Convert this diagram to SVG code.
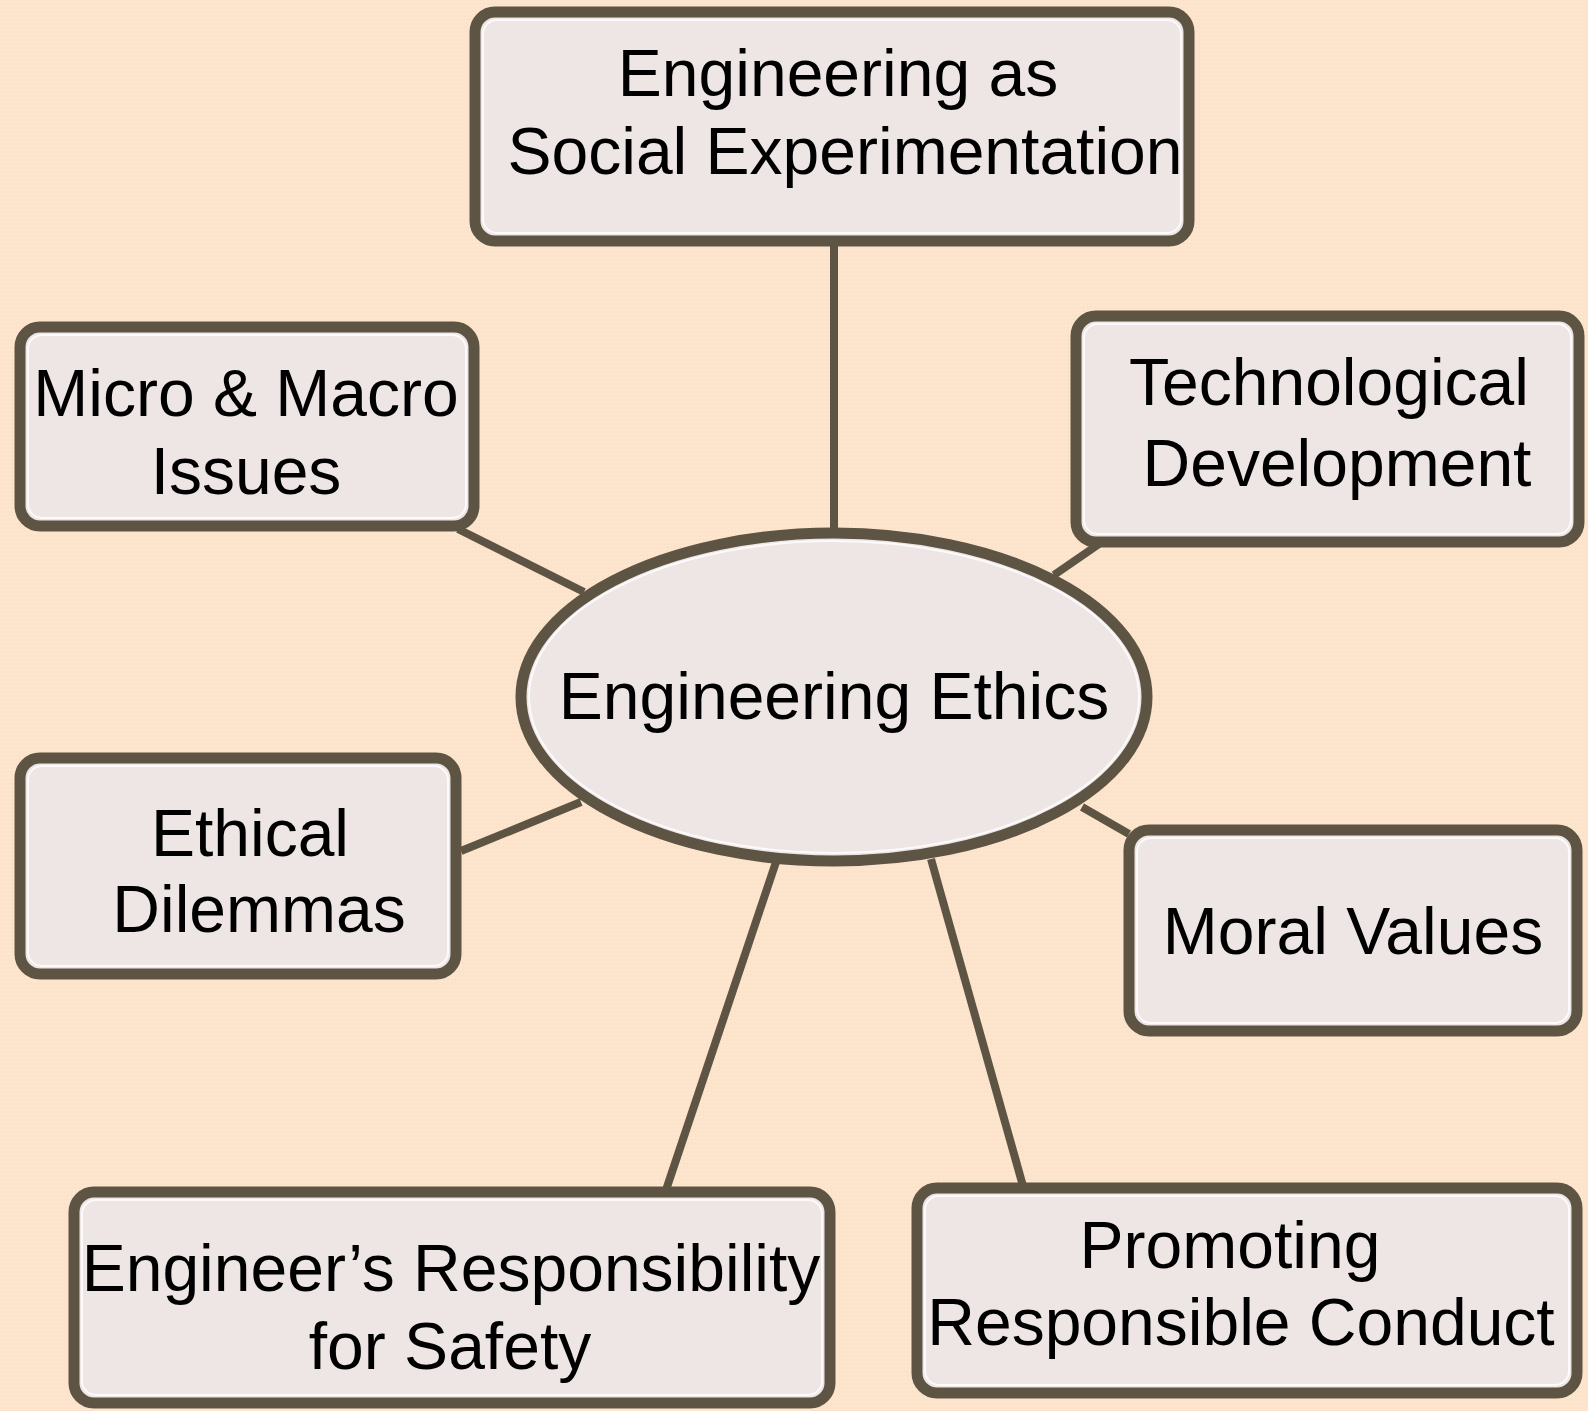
<svg xmlns="http://www.w3.org/2000/svg" width="1588" height="1411" viewBox="0 0 1588 1411">
  <defs>
    <pattern id="dots" width="4" height="4" patternUnits="userSpaceOnUse">
      <rect width="4" height="4" fill="#FCE4CC"/>
      <rect x="1" y="1" width="1" height="1" fill="#FEF0E2"/>
    </pattern>
    <style>
      .box { fill: #EDE6E5; stroke: #5E5443; stroke-width: 11; }
      .hl { fill: none; stroke: #FFFFFF; stroke-width: 2; opacity: 0.8; }
      .link { stroke: #5E5443; stroke-width: 8; fill: none; }
      .lbl { font-family: "Liberation Sans", Arial, sans-serif; font-size: 66px; fill: #000000; text-anchor: middle; }
    </style>
  </defs>

  <!-- page background -->
  <rect width="1588" height="1411" fill="url(#dots)"/>

  <!-- spokes from the hub ellipse to each topic box -->
  <g id="connectors">
    <line class="link" x1="834" y1="245" x2="834" y2="534"/>
    <line class="link" x1="458" y1="529" x2="584" y2="592"/>
    <line class="link" x1="1099" y1="544" x2="1054" y2="575"/>
    <line class="link" x1="461" y1="851" x2="581" y2="802"/>
    <line class="link" x1="1082" y1="807" x2="1129" y2="834"/>
    <line class="link" x1="776" y1="862" x2="666" y2="1190"/>
    <line class="link" x1="931" y1="859" x2="1023" y2="1186"/>
  </g>

  <g id="node-social-experimentation">
    <rect class="box" x="475" y="12" width="714" height="229" rx="20"/>
    <rect class="hl" x="483" y="20" width="698" height="213" rx="14"/>
    <text class="lbl" x="838" y="96">Engineering as</text>
    <text class="lbl" x="845" y="174">Social Experimentation</text>
  </g>

  <g id="node-micro-macro">
    <rect class="box" x="20" y="327" width="454" height="199" rx="20"/>
    <rect class="hl" x="28" y="335" width="438" height="183" rx="14"/>
    <text class="lbl" x="246" y="416">Micro &amp; Macro</text>
    <text class="lbl" x="246" y="494">Issues</text>
  </g>

  <g id="node-technological-development">
    <rect class="box" x="1076" y="316" width="503" height="226" rx="20"/>
    <rect class="hl" x="1084" y="324" width="487" height="210" rx="14"/>
    <text class="lbl" x="1329" y="405">Technological</text>
    <text class="lbl" x="1337" y="486">Development</text>
  </g>

  <g id="node-engineering-ethics">
    <ellipse class="box" cx="834" cy="697" rx="313" ry="164"/>
    <ellipse class="hl" cx="834" cy="697" rx="305" ry="156"/>
    <text class="lbl" x="834" y="719">Engineering Ethics</text>
  </g>

  <g id="node-ethical-dilemmas">
    <rect class="box" x="20" y="758" width="436" height="216" rx="20"/>
    <rect class="hl" x="28" y="766" width="420" height="200" rx="14"/>
    <text class="lbl" x="250" y="856">Ethical</text>
    <text class="lbl" x="259" y="932">Dilemmas</text>
  </g>

  <g id="node-moral-values">
    <rect class="box" x="1129" y="830" width="448" height="201" rx="20"/>
    <rect class="hl" x="1137" y="838" width="432" height="185" rx="14"/>
    <text class="lbl" x="1353" y="954">Moral Values</text>
  </g>

  <g id="node-responsibility-safety">
    <rect class="box" x="74" y="1192" width="756" height="211" rx="20"/>
    <rect class="hl" x="82" y="1200" width="740" height="195" rx="14"/>
    <text class="lbl" x="451" y="1291">Engineer’s Responsibility</text>
    <text class="lbl" x="450" y="1369">for Safety</text>
  </g>

  <g id="node-responsible-conduct">
    <rect class="box" x="917" y="1188" width="660" height="205" rx="20"/>
    <rect class="hl" x="925" y="1196" width="644" height="189" rx="14"/>
    <text class="lbl" x="1230" y="1268">Promoting</text>
    <text class="lbl" x="1241" y="1345">Responsible Conduct</text>
  </g>
</svg>
